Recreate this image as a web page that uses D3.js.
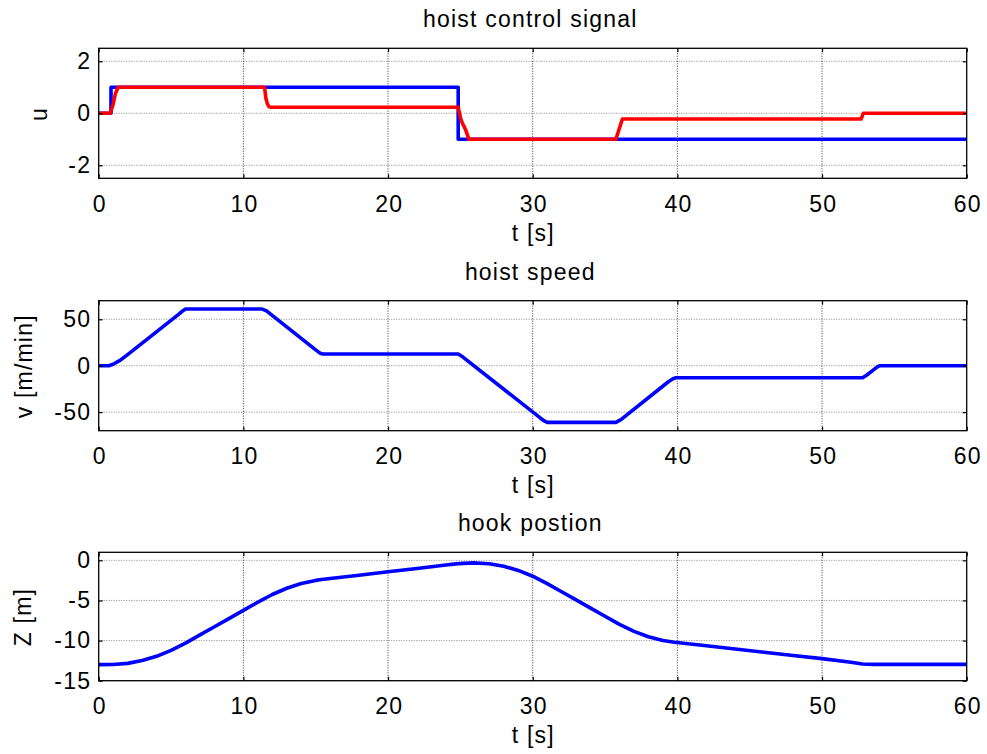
<!DOCTYPE html>
<html>
<head>
<meta charset="utf-8">
<script src="https://cdn.jsdelivr.net/npm/d3@7"></script>
<style>
  html, body { margin: 0; padding: 0; background: #fff; }
  text { font-family: "Liberation Sans", Arial, sans-serif; }
</style>
</head>
<body>
<script>
// ---------- data ----------
const xTicks = [0, 10, 20, 30, 40, 50, 60];
const uTicks = [-2, 0, 2];
const vTicks = [-50, 0, 50];
const zTicks = [-15, -10, -5, 0];

// hoist control signal: reference (blue)
const tURef = [0, 0.85, 0.85, 24.85, 24.85, 60];
const uRef  = [0, 0, 1, 1, -1, -1];
// hoist control signal: actual (red)
const tUAct = [0, 0.8, 1.0, 1.15, 1.35, 11.45, 11.5, 11.55, 11.65, 11.75, 11.9, 24.85, 25.0, 25.15, 25.25, 25.35, 25.6, 35.75, 36.2, 52.7, 52.85, 60];
const uAct  = [0, 0, 0.35, 0.75, 1, 1, 0.85, 0.6, 0.38, 0.27, 0.23, 0.23, -0.15, -0.4, -0.5, -0.62, -1, -1, -0.22, -0.22, 0, 0];

// hoist speed
const tV = [0, 0.7, 1.0, 1.5, 2.0, 5.5, 5.8, 6.0, 11.3, 11.6, 15.0, 15.3, 15.5, 24.85, 25.2, 30.5, 30.8, 31.0, 35.75, 36.1, 39.4, 39.7, 39.9, 52.8, 53.1, 53.6, 53.8, 54.0, 60];
const vHoist = [0, 0, 1.5, 6, 12, 55, 59, 61, 61, 59, 17, 13.5, 12.6, 12.6, 9, -56, -59.5, -61, -61, -58, -17, -14, -13, -13, -10, -4, -1.5, 0, 0];

// hook position
const tZ = [0, 1, 2, 3, 4, 5, 6, 7, 8, 9, 10, 11, 11.3, 12, 13, 14, 15, 15.4, 16, 18, 20, 22, 24, 24.85, 25.9, 27, 28, 29, 30, 31, 32, 33, 34, 35, 35.75, 36, 37, 38, 39, 39.8, 42, 44, 46, 48, 50, 52, 52.8, 53.5, 60];
const zHook = [-13.0, -12.98, -12.84, -12.49, -11.96, -11.23, -10.31, -9.29, -8.27, -7.26, -6.24, -5.22, -4.92, -4.26, -3.48, -2.89, -2.50, -2.40, -2.27, -1.85, -1.43, -1.01, -0.59, -0.41, -0.32, -0.42, -0.74, -1.26, -1.98, -2.90, -3.92, -4.93, -5.95, -6.97, -7.73, -7.98, -8.85, -9.52, -9.99, -10.2, -10.65, -11.05, -11.45, -11.85, -12.25, -12.7, -12.92, -12.97, -12.97];

// ---------- layout ----------
const W = 987, H = 754;
const X0 = 98.7, X1 = 966.7;
const FONT = 23, LS = 1.2;

const panels = [
  { top: 48.3, bottom: 178.3, domain: [-2.5, 2.5], ticks: uTicks, title: "hoist control signal", ylabel: "u", ylabelX: 47,
    series: [{ t: tURef, y: uRef, color: "#0000ff" }, { t: tUAct, y: uAct, color: "#ff0000" }] },
  { top: 300.7, bottom: 430.7, domain: [-70, 70], ticks: vTicks, title: "hoist speed", ylabel: "v [m/min]", ylabelX: 32,
    series: [{ t: tV, y: vHoist, color: "#0000ff" }] },
  { top: 552.3, bottom: 680.7, domain: [-15, 1], ticks: zTicks, title: "hook postion", ylabel: "Z [m]", ylabelX: 31,
    series: [{ t: tZ, y: zHook, color: "#0000ff" }] }
];

const svg = d3.select("body").append("svg")
  .attr("width", W).attr("height", H)
  .style("background", "#fff");

const x = d3.scaleLinear().domain([0, 60]).range([X0, X1]);
const fmt = d => String(d).replace("-", "-");

panels.forEach((p, i) => {
  const y = d3.scaleLinear().domain(p.domain).range([p.bottom, p.top]);
  const g = svg.append("g");

  // grid
  g.append("g").selectAll("line").data(p.ticks).join("line")
    .attr("x1", X0).attr("x2", X1)
    .attr("y1", d => y(d)).attr("y2", d => y(d))
    .attr("stroke", "#8a8a8a").attr("stroke-width", 1).attr("stroke-dasharray", "1,1.5");
  g.append("g").selectAll("line").data(xTicks.slice(1, -1)).join("line")
    .attr("x1", d => x(d)).attr("x2", d => x(d))
    .attr("y1", p.top).attr("y2", p.bottom)
    .attr("stroke", "#3a3a3a").attr("stroke-width", 1).attr("stroke-dasharray", "1,1.5");

  // clip
  const cid = "clip" + i;
  svg.append("clipPath").attr("id", cid).append("rect")
    .attr("x", X0).attr("y", p.top).attr("width", X1 - X0).attr("height", p.bottom - p.top);

  // lines
  const line = d3.line().x(d => x(d[0])).y(d => y(d[1]));
  p.series.forEach(s => {
    const pts = s.t.map((t, k) => [t, s.y[k]]);
    g.append("path").datum(pts)
      .attr("clip-path", `url(#${cid})`)
      .attr("d", line)
      .attr("fill", "none")
      .attr("stroke", s.color)
      .attr("stroke-width", 3.6)
      .attr("stroke-linejoin", "round")
      .attr("stroke-linecap", "butt");
  });

  // axes
  const styleAxis = sel => {
    sel.select(".domain").remove();
    sel.selectAll("line").attr("stroke", "#000").attr("stroke-width", 1.2);
    sel.selectAll("text")
      .attr("fill", "#000")
      .style("font-size", FONT + "px")
      .style("letter-spacing", LS + "px");
  };
  g.append("g").attr("transform", `translate(0,${p.bottom})`)
    .call(d3.axisBottom(x).tickValues(xTicks).tickFormat(fmt).tickSize(-4).tickSizeOuter(0).tickPadding(17))
    .call(styleAxis)
    .selectAll("text").attr("dx", (LS / 2) + "px");
  g.append("g").attr("transform", `translate(0,${p.top})`)
    .call(d3.axisTop(x).tickValues(xTicks).tickSize(-4).tickSizeOuter(0).tickFormat(""))
    .call(styleAxis);
  g.append("g").attr("transform", `translate(${X0},0)`)
    .call(d3.axisLeft(y).tickValues(p.ticks).tickFormat(fmt).tickSize(-4).tickSizeOuter(0).tickPadding(7.5))
    .call(styleAxis);
  g.append("g").attr("transform", `translate(${X1},0)`)
    .call(d3.axisRight(y).tickValues(p.ticks).tickSize(-4).tickSizeOuter(0).tickFormat(""))
    .call(styleAxis);

  // box
  g.append("rect")
    .attr("x", X0).attr("y", p.top)
    .attr("width", X1 - X0).attr("height", p.bottom - p.top)
    .attr("fill", "none").attr("stroke", "#000").attr("stroke-width", 1.3);

  // title
  g.append("text")
    .attr("x", (X0 + X1) / 2 + LS / 2 - 3).attr("y", p.top - 21)
    .attr("text-anchor", "middle")
    .style("font-size", FONT + "px").style("letter-spacing", LS + "px")
    .text(p.title);

  // x label
  g.append("text")
    .attr("x", (X0 + X1) / 2 + LS / 2).attr("y", p.bottom + 62.5)
    .attr("text-anchor", "middle")
    .style("font-size", FONT + "px").style("letter-spacing", LS + "px")
    .text("t [s]");

  // y label
  g.append("text")
    .attr("transform", `translate(${p.ylabelX},${(p.top + p.bottom) / 2 + LS / 2}) rotate(-90)`)
    .attr("text-anchor", "middle")
    .style("font-size", FONT + "px").style("letter-spacing", LS + "px")
    .text(p.ylabel);
});
</script>
</body>
</html>
